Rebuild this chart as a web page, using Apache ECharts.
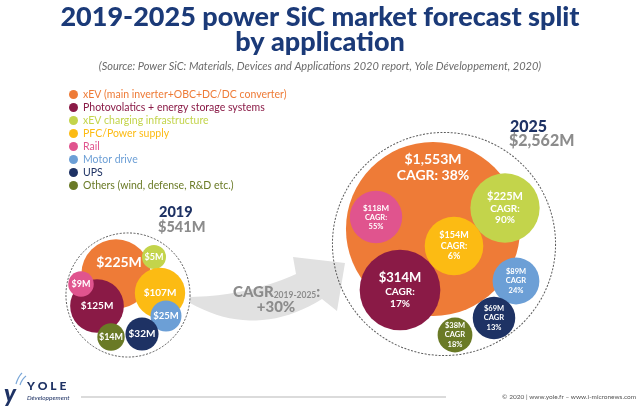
<!DOCTYPE html>
<html><head><meta charset="utf-8">
<script src="https://cdn.jsdelivr.net/npm/echarts@6/dist/echarts.min.js"></script>
<style>html,body{margin:0;padding:0;background:#fff}#c{width:640px;height:406px}</style>
</head><body><div id="c"></div>
<script>
// ---- data ----
const categories = ['xEV (main inverter+OBC+DC/DC converter)','Photovolatics + energy storage systems','xEV charging infrastructure','PFC/Power supply','Rail','Motor drive','UPS','Others (wind, defense, R&D etc.)'];
const values2019 = [225,125,5,107,9,25,32,14];
const values2025 = [1553,314,225,154,118,89,69,38];
const cagr2025 = [38,17,90,6,55,24,13,18];
const years = ['2019','2025'];
const totals = [541,2562];
const cagrTotal = 30;

// ---- layout (bubble centres, in a 640x406 value space) ----
const pos2019 = [[116,274],[97,306],[154,257],[160,293],[81,284],[166,316],[142,334],[111,337]];
const pos2025 = [[433,229],[400,290],[505,208],[454,246],[376,217],[516,281],[494,318],[455,335]];
const groupCenters = [[128,295],[444,244]];

// ---- styles ----
const colors = ['#EE7B37','#8A1A46','#C3D44B','#FCBB13','#E0548E','#6C9FD6','#1E3264','#6A7A26'];
const FONT = 'Lato';
const radius = v => Math.sqrt(4.8 * v + 120);
const lab2019 = [
  {fs:14, off:[3,-12]},{fs:10},{fs:9},{fs:10},{fs:9},{fs:9.5},{fs:10},{fs:9}
];
const lab2025 = [
  {fs1:14, fs2:14, lh:16, mode:'inline', off:[0,-62]},
  {fs1:13, fs2:10, lh:12, mode:'colon'},
  {fs1:11, fs2:10, lh:11.5, mode:'colon'},
  {fs1:9, fs2:9, lh:10.5, mode:'colon'},
  {fs1:8, fs2:7.5, lh:9, mode:'colon'},
  {fs1:7.5, fs2:7.5, lh:9.5, mode:'plain'},
  {fs1:7.5, fs2:7.5, lh:9.5, mode:'plain'},
  {fs1:7.5, fs2:7.5, lh:9.5, mode:'plain'}
];
const money = v => '$' + v.toLocaleString('en-US') + 'M';

function item2019(i){
  const s = lab2019[i];
  return {
    value:[pos2019[i][0], pos2019[i][1], values2019[i]],
    label:{show:true, formatter: money(values2019[i]), color:'#fff', fontFamily:FONT, fontWeight:'bold', fontSize:s.fs, offset:s.off||[0,0]}
  };
}
function item2025(i){
  const s = lab2025[i];
  let txt;
  const a = '{a|' + money(values2025[i]) + '}';
  if (s.mode === 'inline') txt = a + '\n{b|CAGR: ' + cagr2025[i] + '%}';
  else if (s.mode === 'colon') txt = a + '\n{b|CAGR:}\n{b|' + cagr2025[i] + '%}';
  else txt = a + '\n{b|CAGR}\n{b|' + cagr2025[i] + '%}';
  return {
    value:[pos2025[i][0], pos2025[i][1], values2025[i]],
    label:{show:true, formatter: txt, offset:s.off||[0,0],
      rich:{
        a:{color:'#fff', fontFamily:FONT, fontWeight:'bold', fontSize:s.fs1, lineHeight:s.lh + (s.fs1-s.fs2)},
        b:{color:'#fff', fontFamily:FONT, fontWeight:'bold', fontSize:s.fs2, lineHeight:s.lh}
      }}
  };
}

// envelope radius computed from the packed bubbles
function envelopeR(g){
  const pos = g===0?pos2019:pos2025, vals = g===0?values2019:values2025, c = groupCenters[g];
  let m = 0;
  pos.forEach((p,i)=>{ m = Math.max(m, Math.hypot(p[0]-c[0], p[1]-c[1]) + radius(vals[i])); });
  return m + 1;
}

// quadratic curve sampler for decorative shapes
function quad(p0,c,p1,n){
  const out=[];
  for(let k=0;k<=n;k++){const t=k/n,u=1-t;
    out.push([u*u*p0[0]+2*u*t*c[0]+t*t*p1[0], u*u*p0[1]+2*u*t*c[1]+t*t*p1[1]]);}
  return out;
}
const arrowPts = [].concat(
  quad([190,297],[247,296],[296,274],20),
  [[293,257],[345,263],[337,311]],
  quad([322,299],[256,340],[190,303],20)
);

const series = categories.map((name,i)=>({
  type:'scatter', name, z:3,
  symbolSize: v => 2*radius(v[2]),
  itemStyle:{color:colors[i], opacity:1},
  emphasis:{disabled:true},
  data:[item2019(i), item2025(i)]
}));
series.unshift({
  type:'scatter', name:'envelope', z:2, silent:true,
  data: groupCenters.map((c,g)=>({value:[c[0],c[1]], symbolSize: 2*envelopeR(g)})),
  itemStyle:{color:'rgba(255,255,255,0)', borderColor:'#333', borderWidth:1, borderType:[2,1.5]},
  label:{show:false}
});

const chart = echarts.init(document.getElementById('c'), null, {renderer:'canvas'});
chart.setOption({
  animation:false,
  backgroundColor:'#fff',
  title:[
    {text:'2019-2025 power SiC market forecast split\nby application', left:'center', top:0,
     textStyle:{fontFamily:FONT, fontWeight:900, fontSize:27, lineHeight:25, color:'#1B3A78'}},
    {text:'(Source: Power SiC: Materials, Devices and Applications 2020 report, Yole Développement, 2020)', left:'center', top:56,
     textStyle:{fontFamily:FONT, fontStyle:'italic', fontWeight:'normal', fontSize:11, color:'#6b6b6b'}}
  ],
  legend:{
    orient:'vertical', left:64, top:84, icon:'circle', itemWidth:9, itemHeight:9, itemGap:2,
    selectedMode:false,
    textStyle:{fontFamily:FONT, fontSize:10.5},
    data: categories.map((n,i)=>({name:n, textStyle:{color:colors[i]}}))
  },
  grid:{left:0,right:0,top:0,bottom:0},
  xAxis:{type:'value', min:0, max:640, show:false},
  yAxis:{type:'value', min:0, max:406, inverse:true, show:false},
  series,
  graphic:[
    {type:'polygon', z:1, shape:{points:arrowPts}, style:{fill:'#e1e1e1'}},
    {type:'text', z:10, x:233, y:292, style:{text:'{a|CAGR}{s|2019-2025}{a|:}', verticalAlign:'middle', rich:{
      a:{fontFamily:FONT, fontWeight:900, fontSize:15, fill:'#8c8c8c', lineHeight:16},
      s:{fontFamily:FONT, fontWeight:'bold', fontSize:8.5, fill:'#8c8c8c', lineHeight:16, verticalAlign:'bottom', padding:[6,0,0,0]}}}},
    {type:'text', z:10, x:276, y:307, style:{text:'+' + cagrTotal + '%', align:'center', verticalAlign:'middle', fontFamily:FONT, fontWeight:900, fontSize:15, fill:'#8c8c8c'}},
    {type:'text', z:10, x:159, y:212, style:{text:years[0], verticalAlign:'middle', fontFamily:FONT, fontWeight:900, fontSize:14.5, fill:'#1E3264'}},
    {type:'text', z:10, x:158, y:227, style:{text:money(totals[0]), verticalAlign:'middle', fontFamily:FONT, fontWeight:900, fontSize:14.5, fill:'#8c8c8c'}},
    {type:'text', z:10, x:510, y:127, style:{text:years[1], verticalAlign:'middle', fontFamily:FONT, fontWeight:900, fontSize:16, fill:'#1E3264'}},
    {type:'text', z:10, x:509, y:141, style:{text:money(totals[1]), verticalAlign:'middle', fontFamily:FONT, fontWeight:900, fontSize:16, fill:'#8c8c8c'}},
    // footer
    {type:'text', z:10, x:4, y:394, style:{text:'y', verticalAlign:'middle', fontFamily:FONT, fontWeight:900, fontStyle:'italic', fontSize:24, fill:'#1E3264'}},
    {type:'polyline', z:10, shape:{points:quad([16,384],[18,377],[22,373],6)}, style:{stroke:'#7aa7d8', lineWidth:1.2, fill:null}},
    {type:'polyline', z:10, shape:{points:quad([20,385],[22,379],[26,376],6)}, style:{stroke:'#7aa7d8', lineWidth:1.2, fill:null}},
    {type:'text', z:10, x:27, y:386, style:{text:'Y O L E', verticalAlign:'middle', fontFamily:FONT, fontWeight:900, fontSize:12, fill:'#1E3264'}},
    {type:'text', z:10, x:27, y:398, style:{text:'Développement', verticalAlign:'middle', fontFamily:FONT, fontStyle:'italic', fontSize:6.5, fill:'#1E3264'}},
    {type:'line', z:10, shape:{x1:81, y1:397, x2:446, y2:397}, style:{stroke:'#9a9a9a', lineWidth:0.7}},
    {type:'text', z:10, x:636, y:397, style:{text:'© 2020 | www.yole.fr – www.i-micronews.com', align:'right', verticalAlign:'middle', fontFamily:FONT, fontSize:6.5, fill:'#555'}}
  ]
});
</script></body></html>
